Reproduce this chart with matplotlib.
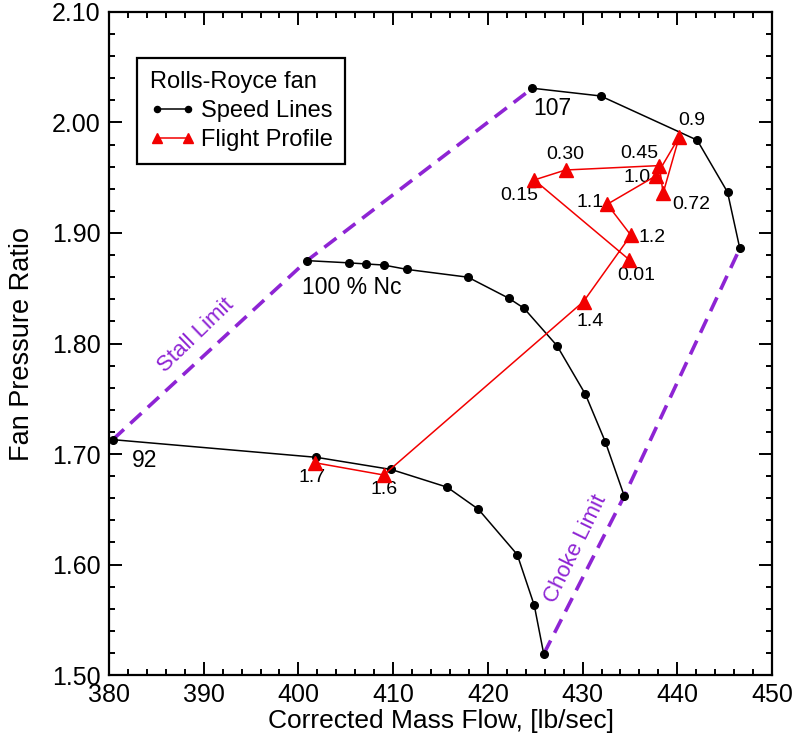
import matplotlib
matplotlib.use("Agg")
import matplotlib.pyplot as plt
from matplotlib.ticker import MultipleLocator, FormatStrFormatter

plt.rcParams['font.family'] = ['Liberation Sans', 'DejaVu Sans']

# ---------------- speed lines (corrected mass flow, fan pressure ratio)
flow_107 = [424.7, 431.9, 442.1, 445.3, 446.6]
fpr_107 = [2.031, 2.024, 1.984, 1.937, 1.886]

flow_100 = [400.9, 405.3, 407.1, 409.0, 411.5, 417.9, 422.2, 423.8, 427.3, 430.3, 432.4, 434.4]
fpr_100 = [1.875, 1.873, 1.872, 1.871, 1.867, 1.860, 1.841, 1.832, 1.798, 1.754, 1.711, 1.662]

flow_92 = [380.4, 401.9, 409.8, 415.7, 419.0, 423.1, 424.9, 425.9]
fpr_92 = [1.713, 1.697, 1.686, 1.670, 1.650, 1.609, 1.563, 1.519]

speed_names = ["107", "100 % Nc", "92"]
speed_name_pos = [(426.8, 2.013), (405.6, 1.851), (383.8, 1.694)]

# ---------------- flight profile (Mach number)
mach_labels = ["0.01", "0.15", "0.30", "0.45", "0.72", "0.9", "1.0", "1.1", "1.2", "1.4", "1.6", "1.7"]
fp_flow = [434.9, 424.9, 428.2, 438.1, 438.5, 440.2, 437.8, 432.6, 435.1, 430.1, 409.0, 401.8]
fp_fpr = [1.876, 1.948, 1.957, 1.961, 1.936, 1.987, 1.952, 1.926, 1.898, 1.838, 1.681, 1.692]
# label offsets in pixels from each triangle
lab_off = [(7, -16), (-15, -16), (0, 16), (-20, 12), (28, -11), (13, 16),
           (-19, -2), (-17, 2), (21, -2), (7, -20), (0, -14), (-3, -15)]

purple = '#8E24D4'

fig = plt.figure(figsize=(7.95, 7.35), dpi=100)
ax = fig.add_axes([0.1371, 0.0816, 0.8340, 0.9021])

# stall / choke limits through the ends of the speed lines
stall_x = [flow_92[0], flow_100[0], flow_107[0]]
stall_y = [fpr_92[0], fpr_100[0], fpr_107[0]]
choke_x = [flow_92[-1], flow_100[-1], flow_107[-1]]
choke_y = [fpr_92[-1], fpr_100[-1], fpr_107[-1]]
ax.plot(stall_x, stall_y, color=purple, lw=2.6, dashes=(4.2, 2.4), zorder=1)
ax.plot(choke_x, choke_y, color=purple, lw=2.6, dashes=(4.2, 2.4), zorder=1)

ax.text(389.2, 1.807, "Stall Limit", color=purple, fontsize=16, rotation=44,
        ha='center', va='center')
ax.text(429.3, 1.614, "Choke Limit", color=purple, fontsize=16, rotation=64,
        ha='center', va='center')

first = True
for fx, fy in [(flow_107, fpr_107), (flow_100, fpr_100), (flow_92, fpr_92)]:
  ax.plot(fx, fy, color='black', lw=1.1, marker='o', ms=5.5,
          label="Speed Lines" if first else None, zorder=3)
  first = False

for name, (tx, ty) in zip(speed_names, speed_name_pos):
  ax.text(tx, ty, name, fontsize=16.5, ha='center', va='center')

ax.plot(fp_flow, fp_fpr, color='#F20000', lw=1.1, marker='^', ms=9.5,
        label="Flight Profile", zorder=4)
for lab, x, y, off in zip(mach_labels, fp_flow, fp_fpr, lab_off):
  ax.annotate(lab, (x, y), xytext=off, textcoords='offset pixels',
              fontsize=14, ha='center', va='center')

ax.set_xlim(380, 450)
ax.set_ylim(1.50, 2.10)
ax.xaxis.set_major_locator(MultipleLocator(10))
ax.xaxis.set_minor_locator(MultipleLocator(2))
ax.yaxis.set_major_locator(MultipleLocator(0.1))
ax.yaxis.set_minor_locator(MultipleLocator(0.02))
ax.yaxis.set_major_formatter(FormatStrFormatter('%.2f'))
ax.tick_params(which='both', direction='in', top=True, right=True, width=1.4,
               labelsize=18)
ax.tick_params(which='major', length=9.5, pad=6)
ax.tick_params(which='minor', length=4.5)
for s in ax.spines.values():
  s.set_linewidth(1.6)

ax.set_xlabel("Corrected Mass Flow, [lb/sec]", fontsize=19, labelpad=1)
ax.set_ylabel("Fan Pressure Ratio", fontsize=19.5, labelpad=12)

leg = ax.legend(loc='upper left', bbox_to_anchor=(0.042, 0.931), title="Rolls-Royce fan",
                title_fontsize=17, fontsize=17, numpoints=2, handlelength=1.9,
                fancybox=False, framealpha=1, edgecolor='black', borderpad=0.55,
                handletextpad=0.25, labelspacing=0.3, alignment='left',
                borderaxespad=0, markerscale=0.8)
leg.get_frame().set_linewidth(1.6)

fig.savefig("out.png", dpi=100)
